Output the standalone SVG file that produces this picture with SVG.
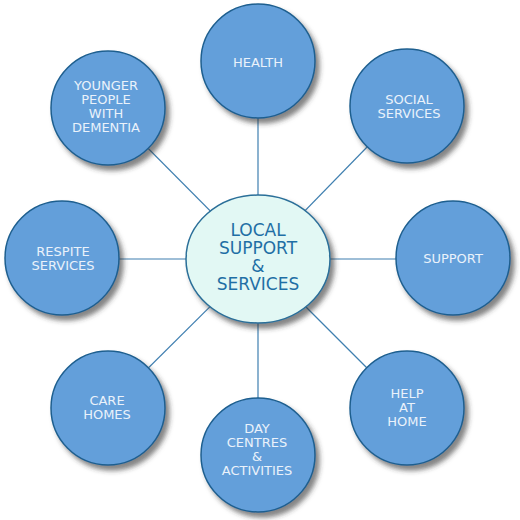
<svg xmlns="http://www.w3.org/2000/svg" width="520" height="520" viewBox="0 0 520 520">
<defs>
<filter id="sh" x="-30%" y="-30%" width="170%" height="170%">
<feDropShadow dx="4" dy="5" stdDeviation="2.5" flood-color="#333" flood-opacity="0.6"/>
</filter>
</defs>
<style>
.n{fill:#639fda;stroke:#1f5f8f;stroke-width:1.5;filter:url(#sh)}
.t{font-family:"DejaVu Sans",Verdana,sans-serif;font-size:13px;fill:#eaf2fb;text-anchor:middle}
.c{fill:#e2f8f4;stroke:#2b6f99;stroke-width:1.5;filter:url(#sh)}
.ct{font-family:"DejaVu Sans",Verdana,sans-serif;font-size:17px;fill:#1f6fa5;text-anchor:middle}
.l{stroke:#3f7fb0;stroke-width:1.2;fill:none}
</style>
<rect width="520" height="520" fill="#fff"/>
<g id="connectors">
<line class="l" x1="258" y1="259" x2="258" y2="61"/>
<line class="l" x1="258" y1="259" x2="407" y2="106"/>
<line class="l" x1="258" y1="259" x2="453" y2="259"/>
<line class="l" x1="258" y1="259" x2="407" y2="408"/>
<line class="l" x1="258" y1="259" x2="258" y2="455"/>
<line class="l" x1="258" y1="259" x2="108" y2="408"/>
<line class="l" x1="258" y1="259" x2="62" y2="259"/>
<line class="l" x1="258" y1="259" x2="108" y2="108"/>
</g>
<g id="health"><circle class="n" cx="258" cy="61" r="57"/><text class="t" x="258" y="67">HEALTH</text></g>
<g id="social"><circle class="n" cx="407" cy="106" r="57"/><text class="t" x="409" y="104">SOCIAL</text><text class="t" x="409" y="118">SERVICES</text></g>
<g id="support"><circle class="n" cx="453" cy="258" r="57"/><text class="t" x="453" y="263">SUPPORT</text></g>
<g id="help"><circle class="n" cx="407" cy="408" r="57"/><text class="t" x="407" y="398">HELP</text><text class="t" x="407" y="412">AT</text><text class="t" x="407" y="426">HOME</text></g>
<g id="day"><circle class="n" cx="258" cy="455" r="57"/><text class="t" x="257" y="433">DAY</text><text class="t" x="257" y="447">CENTRES</text><text class="t" x="257" y="461">&amp;</text><text class="t" x="257" y="475">ACTIVITIES</text></g>
<g id="care"><circle class="n" cx="108" cy="408" r="57"/><text class="t" x="107" y="405">CARE</text><text class="t" x="107" y="419">HOMES</text></g>
<g id="respite"><circle class="n" cx="62" cy="258" r="57"/><text class="t" x="63" y="256">RESPITE</text><text class="t" x="63" y="270">SERVICES</text></g>
<g id="younger"><circle class="n" cx="108" cy="108" r="57"/><text class="t" x="106" y="90">YOUNGER</text><text class="t" x="106" y="104">PEOPLE</text><text class="t" x="106" y="118">WITH</text><text class="t" x="106" y="132">DEMENTIA</text></g>
<g id="center"><ellipse class="c" cx="258" cy="259" rx="72" ry="64"/><text class="ct" x="258" y="236">LOCAL</text><text class="ct" x="258" y="254">SUPPORT</text><text class="ct" x="258" y="272">&amp;</text><text class="ct" x="258" y="290">SERVICES</text></g>
</svg>
